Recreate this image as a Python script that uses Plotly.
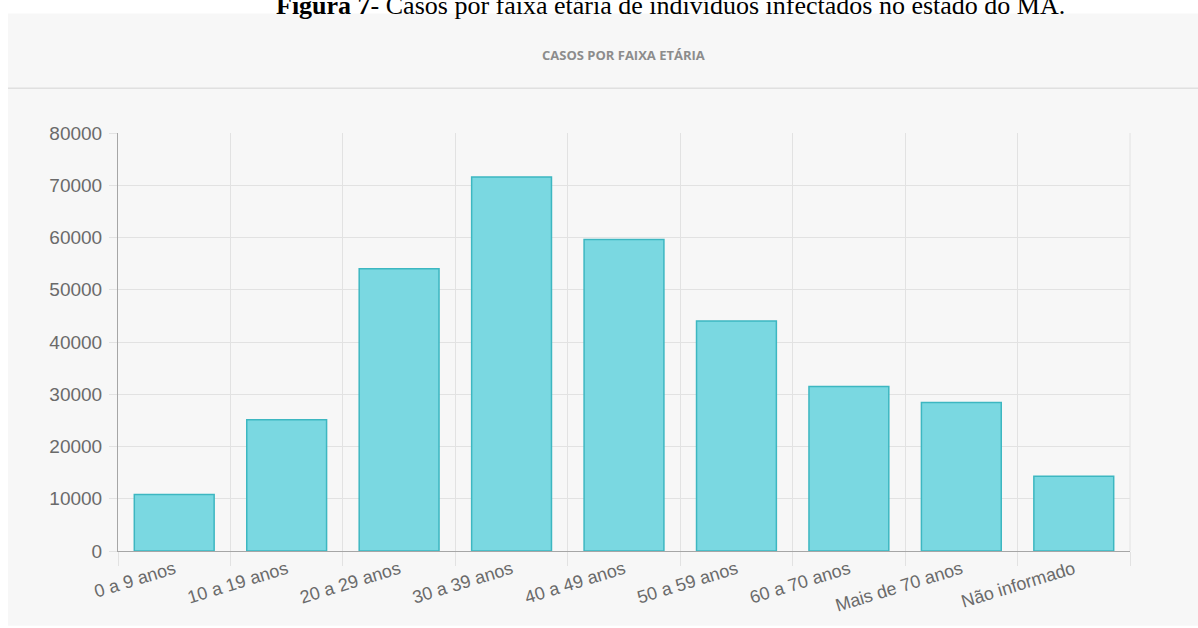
import plotly.graph_objects as go

categories = ["0 a 9 anos", "10 a 19 anos", "20 a 29 anos", "30 a 39 anos",
              "40 a 49 anos", "50 a 59 anos", "60 a 70 anos", "Mais de 70 anos",
              "Não informado"]
casos = [10800, 25100, 54000, 71600, 59600, 44000, 31500, 28400, 14300]
y_ticks = [0, 10000, 20000, 30000, 40000, 50000, 60000, 70000, 80000]

W, H = 1198, 628
L, R, T, B = 118, 1130, 133, 553  # plot area in pixels


def px_x(px):
    return (px - L) / (R - L)


def px_y(py):
    return (B - py) / (B - T)


fig = go.Figure()
fig.add_trace(go.Bar(
    x=categories, y=casos, width=0.71,
    marker=dict(color="#7ad8e1", line=dict(color="#3db7c1", width=1.5)),
))

grid = "#e2e2e2"
fig.update_layout(
    width=W, height=H,
    margin=dict(l=L, r=W - R, t=T, b=H - B, pad=0),
    paper_bgcolor="white",
    plot_bgcolor="rgba(0,0,0,0)",
    showlegend=False,
    bargap=0.29,
    font=dict(family="Liberation Sans, Arial, sans-serif", color="#666666"),
    xaxis=dict(
        type="category", tickson="boundaries", showgrid=True, gridcolor=grid,
        gridwidth=1, ticks="outside", ticklen=14, tickcolor=grid,
        tickangle=-17, tickfont=dict(size=18, color="#6a6a6a"),
        showline=True, linecolor="#a6a6a6", linewidth=1,
        range=[-0.5, 8.5], zeroline=False,
    ),
    yaxis=dict(
        range=[0, 80000], tickvals=y_ticks, ticktext=[str(v) for v in y_ticks],
        showgrid=True, gridcolor=grid, gridwidth=1, ticks="outside", ticklen=8,
        tickcolor=grid, tickfont=dict(size=19, color="#6a6a6a"),
        showline=True, linecolor="#a6a6a6", linewidth=1, zeroline=False,
        ticklabelstandoff=3,
    ),
    shapes=[
        dict(type="rect", xref="paper", yref="paper", layer="below",
             x0=px_x(8), x1=px_x(1198), y0=px_y(13), y1=px_y(628),
             fillcolor="#f7f7f7", line=dict(width=0)),
        dict(type="line", xref="paper", yref="paper", layer="below",
             x0=px_x(8), x1=px_x(1198), y0=px_y(88), y1=px_y(88),
             line=dict(color="#e0e0e0", width=1.5)),
        dict(type="line", xref="paper", yref="paper", layer="below",
             x0=1, x1=1, y0=0, y1=1, line=dict(color=grid, width=1)),
    ],
    annotations=[
        dict(xref="paper", yref="paper", x=px_x(670), y=px_y(5),
             xanchor="center", yanchor="middle", showarrow=False,
             text="<b>Figura 7</b>- Casos por faixa etária de indivíduos infectados no estado do MA.",
             font=dict(family="Liberation Serif, Times New Roman, serif", size=26, color="#000000")),
        dict(xref="paper", yref="paper", x=px_x(623), y=px_y(55),
             xanchor="center", yanchor="middle", showarrow=False,
             text="<b>CASOS POR FAIXA ETÁRIA</b>",
             font=dict(family="Open Sans, sans-serif", size=13, color="#8c8c8c")),
    ],
)

fig.write_html("out.html")
